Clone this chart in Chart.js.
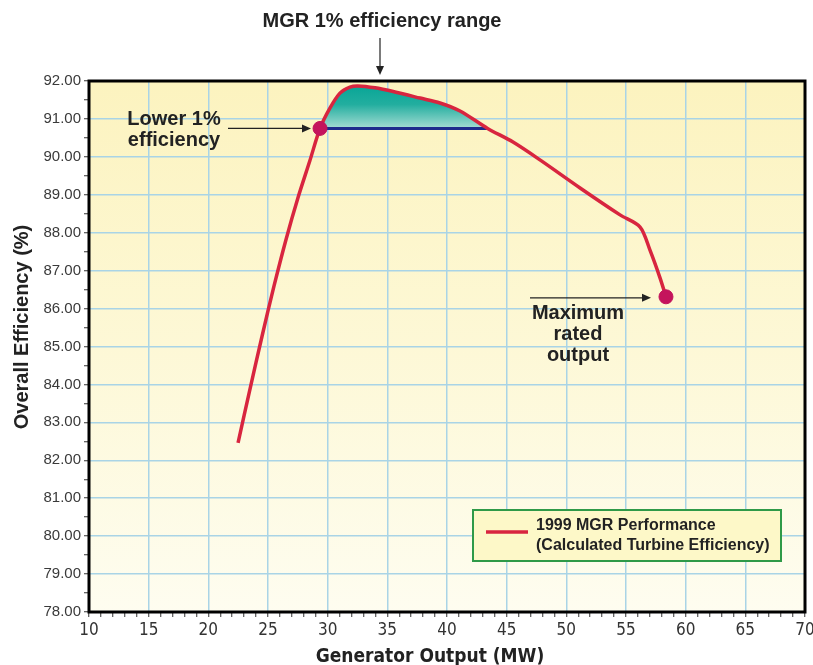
<!DOCTYPE html>
<html>
<head>
<meta charset="utf-8">
<script src="https://cdn.jsdelivr.net/npm/chart.js@4.4.0/dist/chart.umd.min.js"></script>
<style>
  html, body { margin: 0; padding: 0; background: #ffffff; }
  #wrap { width: 813px; height: 665px; position: relative; }
</style>
</head>
<body>
<div id="wrap"><canvas id="c" width="813" height="665"></canvas></div>
<script>
// ---- data ----
const outputMW = [22.49, 23.50, 24.50, 25.50, 26.50, 27.50, 28.50, 29.36, 30.20, 31.03, 31.87, 32.54, 33.97, 35.64, 37.74, 39.41, 41.09, 43.40, 45.53, 47.79, 51.15, 54.50, 56.18, 57.01, 57.85, 58.35];
const efficiency = [82.46, 83.89, 85.27, 86.59, 87.81, 88.91, 89.89, 90.75, 91.29, 91.68, 91.84, 91.87, 91.82, 91.71, 91.55, 91.42, 91.21, 90.75, 90.39, 89.92, 89.18, 88.47, 88.15, 87.54, 86.81, 86.31];
const lowerLevel = 90.75;          // lower 1% efficiency level
const rangeStartMW = 29.36;        // start of 1% efficiency range
const rangeEndMW = 43.40;          // end of 1% efficiency range
const maxRatedMW = 58.35;
const maxRatedEff = 86.31;
const seriesName = ['1999 MGR Performance', '(Calculated Turbine Efficiency)'];
const xTitle = 'Generator Output (MW)';
const yTitle = 'Overall Efficiency (%)';
const xMin = 10, xMax = 70, yMin = 78, yMax = 92;

const curve = outputMW.map((x, i) => ({x, y: efficiency[i]}));
const rangePart = curve.filter(p => p.x >= rangeStartMW && p.x <= rangeEndMW);
const rangeLine = [{x: rangeStartMW, y: lowerLevel}, {x: rangeEndMW, y: lowerLevel}];
const markers = [{x: rangeStartMW, y: lowerLevel}, {x: maxRatedMW, y: maxRatedEff}];

const RED = '#d8253f';
const MAGENTA = '#c4145c';
const GRID = '#a9d4e6';
const TXT = '#222222';
const BOLD = 'bold 20px "Liberation Sans", Arial, sans-serif';

function arrow(ctx, x1, y1, x2, y2) {
  const ang = Math.atan2(y2 - y1, x2 - x1);
  const hl = 9, hw = 4;
  ctx.save();
  ctx.strokeStyle = '#222'; ctx.fillStyle = '#222'; ctx.lineWidth = 1.2;
  ctx.beginPath(); ctx.moveTo(x1, y1);
  ctx.lineTo(x2 - Math.cos(ang) * hl, y2 - Math.sin(ang) * hl); ctx.stroke();
  ctx.beginPath();
  ctx.moveTo(x2, y2);
  ctx.lineTo(x2 - Math.cos(ang) * hl - Math.sin(ang) * hw, y2 - Math.sin(ang) * hl + Math.cos(ang) * hw);
  ctx.lineTo(x2 - Math.cos(ang) * hl + Math.sin(ang) * hw, y2 - Math.sin(ang) * hl - Math.cos(ang) * hw);
  ctx.closePath(); ctx.fill();
  ctx.restore();
}

const decor = {
  id: 'decor',
  beforeDraw(chart) {
    const {ctx, chartArea: a} = chart;
    const g = ctx.createLinearGradient(0, a.top, 0, a.bottom);
    g.addColorStop(0, '#fcf3bf');
    g.addColorStop(0.5, '#fdf8d6');
    g.addColorStop(1, '#fefdf0');
    ctx.save();
    ctx.fillStyle = g;
    ctx.fillRect(a.left, a.top, a.right - a.left, a.bottom - a.top);
    ctx.restore();
  },
  afterDatasetsDraw(chart) {
    const {ctx, chartArea: a, scales} = chart;
    const sx = scales.x, sy = scales.y;
    ctx.save();
    // frame
    ctx.strokeStyle = '#000'; ctx.lineWidth = 3;
    ctx.strokeRect(a.left, a.top, a.right - a.left, a.bottom - a.top);

    ctx.fillStyle = TXT; ctx.font = BOLD; ctx.textBaseline = 'middle';
    // top annotation
    ctx.textAlign = 'center';
    ctx.fillText('MGR 1% efficiency range', 382, 21);
    arrow(ctx, 380, 38, 380, 75);
    // lower 1% efficiency
    const mx = sx.getPixelForValue(rangeStartMW), my = sy.getPixelForValue(lowerLevel);
    ctx.fillText('Lower 1%', 174, 119);
    ctx.fillText('efficiency', 174, 140);
    arrow(ctx, 228, my, mx - 9, my);
    // maximum rated output
    const rx = sx.getPixelForValue(maxRatedMW), ry = sy.getPixelForValue(maxRatedEff);
    ctx.fillText('Maximum', 578, 313);
    ctx.fillText('rated', 578, 334);
    ctx.fillText('output', 578, 355);
    arrow(ctx, 530, ry + 1, rx - 15, ry + 1);

    // legend box
    ctx.fillStyle = '#fdf8c8';
    ctx.fillRect(473, 510, 308, 51);
    ctx.strokeStyle = '#2f9a48'; ctx.lineWidth = 2;
    ctx.strokeRect(473, 510, 308, 51);
    ctx.strokeStyle = RED; ctx.lineWidth = 3.5;
    ctx.beginPath(); ctx.moveTo(486, 532); ctx.lineTo(528, 532); ctx.stroke();
    ctx.fillStyle = TXT; ctx.textAlign = 'left';
    ctx.font = 'bold 16px "Liberation Sans", Arial, sans-serif';
    ctx.fillText(seriesName[0], 536, 526);
    ctx.fillText(seriesName[1], 536, 546);

    // axis titles
    ctx.font = 'bold 20px "Liberation Sans", Arial, sans-serif';
    ctx.save();
    ctx.translate(22, 327); ctx.rotate(-Math.PI / 2);
    ctx.textAlign = 'center';
    ctx.fillText(yTitle, 0, 0);
    ctx.restore();
    ctx.textAlign = 'center';
    ctx.font = 'bold 19px "DejaVu Sans Condensed", "Liberation Sans", sans-serif';
    ctx.fillText(xTitle, 430, 657);
    ctx.restore();
  }
};

function fillGradient(c) {
  const chart = c.chart;
  const {ctx, chartArea, scales} = chart;
  if (!chartArea) return 'rgba(20,170,155,0.8)';
  const y0 = scales.y.getPixelForValue(yMax - 0.1);
  const y1 = scales.y.getPixelForValue(lowerLevel);
  const g = ctx.createLinearGradient(0, y0, 0, y1);
  g.addColorStop(0, '#07a596');
  g.addColorStop(0.45, '#22ae9f');
  g.addColorStop(1, '#a5dcd3');
  return g;
}

new Chart(document.getElementById('c'), {
  type: 'scatter',
  data: {
    datasets: [
      { label: 'markers', data: markers, showLine: false, pointRadius: 7, pointHoverRadius: 7,
        pointBackgroundColor: MAGENTA, pointBorderColor: MAGENTA, order: 0 },
      { label: seriesName.join(' '), data: curve, showLine: true, borderColor: RED, borderWidth: 3.5,
        pointRadius: 0, tension: 0.3, fill: false, order: 1 },
      { label: 'range', data: rangeLine, showLine: true, borderColor: '#1d2a8c', borderWidth: 3,
        pointRadius: 0, fill: false, order: 2 },
      { label: 'area', data: rangePart, showLine: true, borderWidth: 0, borderColor: 'rgba(0,0,0,0)',
        pointRadius: 0, tension: 0.3,
        fill: {value: lowerLevel}, backgroundColor: fillGradient, order: 3 }
    ]
  },
  options: {
    responsive: false,
    animation: false,
    events: [],
    layout: { padding: { top: 81, right: 7, left: 0, bottom: 0 } },
    plugins: { legend: { display: false }, tooltip: { enabled: false }, title: { display: false } },
    scales: {
      x: {
        type: 'linear', min: xMin, max: xMax,
        afterFit(s) { s.height = 53; s.paddingLeft = 0; s.paddingRight = 0; },
        ticks: {
          stepSize: 1, autoSkip: false, maxRotation: 0, padding: 3,
          color: '#333',
          font: { family: '"DejaVu Sans Condensed", "Liberation Sans", sans-serif', size: 17 },
          callback: v => (v % 5 === 0 ? String(v) : '')
        },
        grid: {
          color: c => (c.tick && c.tick.value % 5 === 0 ? GRID : 'rgba(0,0,0,0)'),
          lineWidth: 1.5, tickLength: 5, tickColor: '#333', tickWidth: 1
        },
        border: { display: false }
      },
      y: {
        type: 'linear', min: yMin, max: yMax,
        afterFit(s) { s.width = 89; s.paddingTop = 0; s.paddingBottom = 0; },
        ticks: {
          stepSize: 0.5, autoSkip: false, padding: 3, color: '#3a3a3a',
          font: { family: '"Liberation Sans", Arial, sans-serif', size: 15 },
          callback: v => (v % 1 === 0 ? v.toFixed(2) : '')
        },
        grid: {
          color: c => (c.tick && c.tick.value % 1 === 0 ? GRID : 'rgba(0,0,0,0)'),
          lineWidth: 1.5, tickLength: 5, tickColor: '#333', tickWidth: 1
        },
        border: { display: false }
      }
    }
  },
  plugins: [decor]
});
</script>
</body>
</html>
